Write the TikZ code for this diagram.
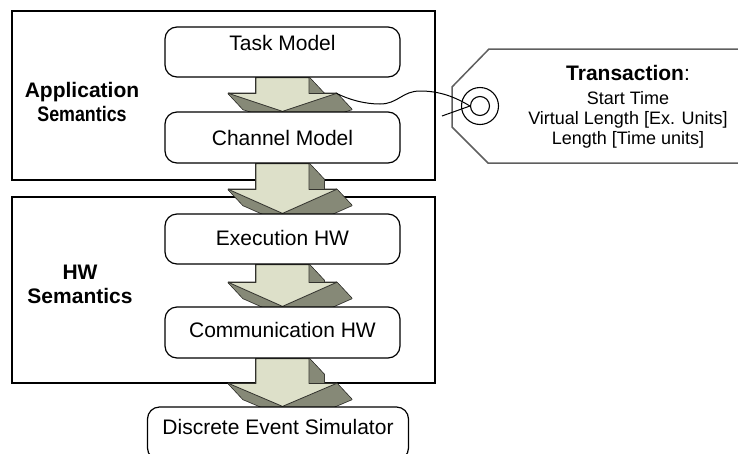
\documentclass[tikz,border=0pt]{standalone}
\usepackage{fontspec}
\usepackage{graphicx}
\setmainfont{Liberation Sans}
\usetikzlibrary{calc}

\definecolor{arrowlight}{RGB}{221,224,201}
\definecolor{arrowdark}{RGB}{134,137,119}
\definecolor{arrowedge}{RGB}{50,50,45}
\definecolor{tagline}{RGB}{95,95,95}

\pgfdeclarelayer{frames}
\pgfdeclarelayer{arrows}
\pgfsetlayers{frames,arrows,main}

% Extruded block arrow between two nodes.
% #1 coordinate prefix, #2 source node, #3 target node, #4 head height
\newcommand\fatarrow[4]{%
  \coordinate (#1h) at ($(#3.north)+(0,-#4)$);
  \path let \p1=(#2.south), \p2=(#1h), \p3=(#3.north) in
    coordinate (#11) at (\x1-26.5pt,\y1)
    coordinate (#12) at (\x1+26.5pt,\y1)
    coordinate (#13) at (\x1+26.5pt,\y2)
    coordinate (#14) at (\x1+54pt,\y2)
    coordinate (#15) at (\x1,\y3)
    coordinate (#16) at (\x1-54pt,\y2)
    coordinate (#17) at (\x1-26.5pt,\y2);
  % side faces and back face, outlined as one shape
  \foreach \i/\j in {1/2,2/3,3/4,4/5,5/6,6/7,7/1}
    \filldraw[fill=arrowdark, draw=arrowedge, line width=1.6pt, line join=round]
      (#1\i) -- (#1\j) -- ([shift={(15,16)}]#1\j) -- ([shift={(15,16)}]#1\i) -- cycle;
  \foreach \i/\j in {1/2,2/3,3/4,4/5,5/6,6/7,7/1}
    \fill[arrowdark]
      (#1\i) -- (#1\j) -- ([shift={(15,16)}]#1\j) -- ([shift={(15,16)}]#1\i) -- cycle;
  % front face
  \filldraw[fill=arrowlight, draw=arrowedge, line width=0.8pt, line join=round]
    (#11) -- (#12) -- (#13) -- (#14) -- (#15) -- (#16) -- (#17) -- cycle;
}

\begin{document}
\begin{tikzpicture}[x=1pt, y=-1pt,
  frame/.style={draw=black, line width=1.2pt, inner sep=0pt},
  block/.style={draw=black, line width=1.2pt, fill=white, rounded corners=12pt,
    minimum width=235pt, minimum height=50pt, inner sep=0pt,
    font=\fontsize{21}{25}\selectfont, text height=15pt, text depth=0pt},
  sem/.style={font=\fontsize{21}{24.5}\selectfont\bfseries, align=center, inner sep=0pt},
  tagtext/.style={align=center, inner sep=0pt},
  ring/.style={circle, draw=black, line width=1.1pt, inner sep=0pt},
  string/.style={draw=black, line width=1pt}]

\useasboundingbox (0,0) rectangle (738,453);

% semantic layers
\begin{pgfonlayer}{frames}
  \node[frame, minimum width=423pt, minimum height=169pt] (appframe) at (223.5,95.5) {};
  \node[frame, minimum width=423pt, minimum height=186pt] (hwframe) at (223.5,290) {};
\end{pgfonlayer}

\node[sem] (applbl) at (82,102) {Application\\\scalebox{0.85}[1]{Semantics}};
\node[sem] (hwlbl) at (80,284.5) {HW\\Semantics};

% processing chain
\node[block, text depth=19pt] (task) at (282.5,52) {Task Model};
\node[block, minimum height=51pt] (chan) at (282.5,137.5) {Channel Model};
\node[block, text depth=3pt] (exec) at (282.5,239) {Execution HW};
\node[block, minimum height=51pt, text depth=5pt] (comm) at (282.5,332.5) {Communication HW};
\node[block, minimum width=261pt, minimum height=53pt, text depth=13pt] (des) at (278,433.5) {Discrete Event Simulator};

\begin{pgfonlayer}{arrows}
  \fatarrow{a}{task}{chan}{18}
  \fatarrow{b}{chan}{exec}{24}
  \fatarrow{c}{exec}{comm}{24}
  \fatarrow{d}{comm}{des}{23}
\end{pgfonlayer}

% transaction tag
\draw[draw=tagline, line width=1.5pt, fill=white, line join=miter]
  (489,49) -- (760,49) -- (760,163) -- (488,163) -- (452,127) -- (452,87) -- cycle;
\node[ring, minimum size=37pt] (holeout) at (480,106) {};
\node[ring, minimum size=19pt] (holein) at (480,106) {};
\node[tagtext, font=\fontsize{21}{24}\selectfont] (tagtitle) at (628,73) {\textbf{Transaction}:};
\node[tagtext, font=\fontsize{18}{20}\selectfont] (tagbody) at (628,119.8)
  {Start Time\\Virtual Length [Ex. Units]\\Length [Time units]};

% string tying the tag to the arrow
\coordinate (strtail) at (442,116);
\draw[string] (a4) .. controls (350,100) and (365,104) .. (380,104)
  .. controls (398,104) and (402,91) .. (420,91)
  .. controls (440,91) and (455,97) .. (holein.west);
\draw[string] (strtail) -- (holein.west);

\end{tikzpicture}
\end{document}
